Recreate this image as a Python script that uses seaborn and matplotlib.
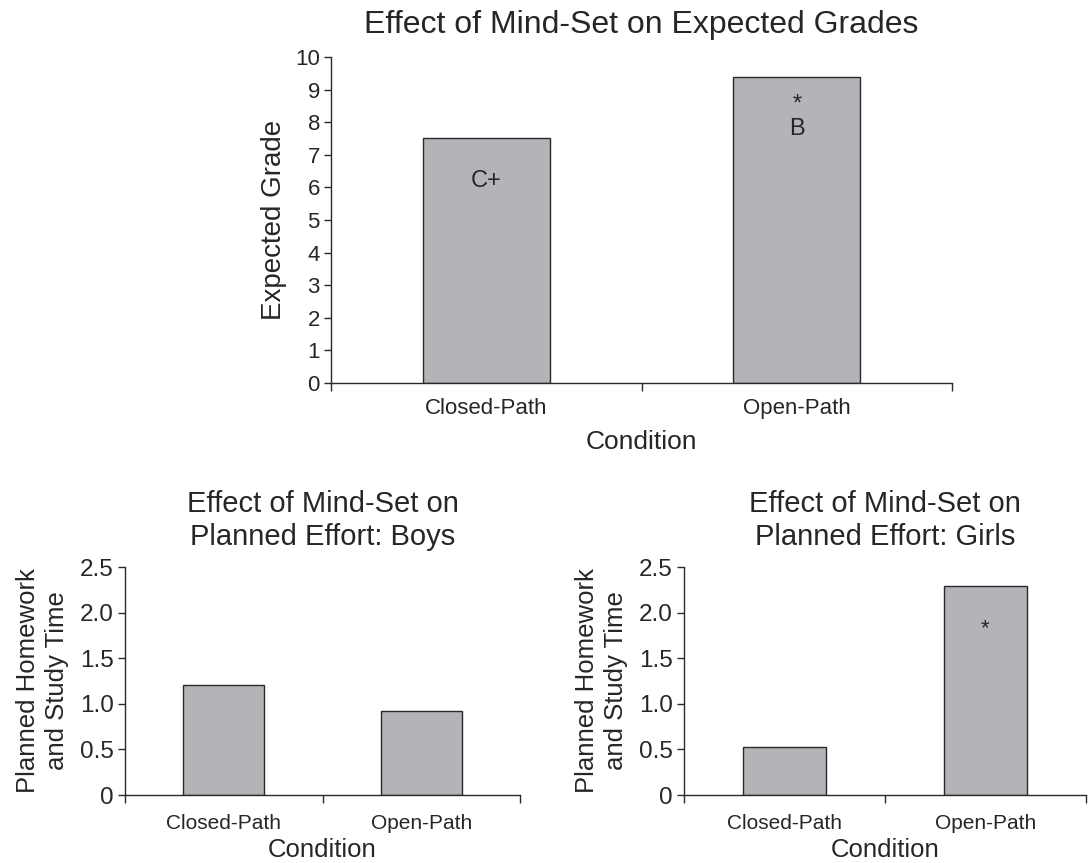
import pandas as pd
import matplotlib.pyplot as plt
import seaborn as sns

# data
conditions = ["Closed-Path", "Open-Path"]
expected_grade = [7.5, 9.4]
grade_letters = ["C+", "B"]
effort_boys = [1.21, 0.92]
effort_girls = [0.53, 2.29]

BAR_COLOR = "#b3b4b8"
EDGE_COLOR = "#2a2a2a"

sns.set_style("ticks")
plt.rcParams['font.family'] = ['Liberation Sans', 'DejaVu Sans']

W, H = 1091, 863
fig = plt.figure(figsize=(W / 100, H / 100), dpi=100)


def px_axes(left, top, right, bottom):
    return fig.add_axes([left / W, 1 - bottom / H, (right - left) / W, (bottom - top) / H])


def draw_bars(ax, values, ymax, yticks, yticklabels, xtick_fs, ytick_fs, label_fs, xpad, lpad):
    df = pd.DataFrame({"Condition": conditions, "Value": values})
    sns.barplot(data=df, x="Condition", y="Value", color=BAR_COLOR, width=0.41,
                edgecolor=EDGE_COLOR, linewidth=1.0, saturation=1, ax=ax)
    ax.set_xlim(-0.5, 1.5)
    ax.set_ylim(0, ymax)
    ax.set_yticks(yticks)
    ax.set_yticklabels(yticklabels, fontsize=ytick_fs)
    ax.set_xticks([-0.5, 0.5, 1.5], minor=True)
    ax.tick_params(axis="x", which="major", length=0, labelsize=xtick_fs, pad=xpad)
    ax.tick_params(axis="x", which="minor", length=6, width=1, color=EDGE_COLOR)
    ax.tick_params(axis="y", length=5, width=1, color=EDGE_COLOR, pad=3)
    for s in ["top", "right"]:
        ax.spines[s].set_visible(False)
    for s in ["left", "bottom"]:
        ax.spines[s].set_color(EDGE_COLOR)
        ax.spines[s].set_linewidth(1)
    ax.set_xlabel("Condition", fontsize=label_fs, labelpad=lpad)


# top panel
ax1 = px_axes(331, 57, 952, 383)
draw_bars(ax1, expected_grade, 10, range(0, 11), [str(i) for i in range(11)],
          16, 16, 19, 11, 8)
ax1.set_ylabel("Expected Grade", fontsize=20, labelpad=6)
ax1.set_title("Effect of Mind-Set on Expected Grades", fontsize=23, pad=17)
ax1.text(0, expected_grade[0] - 1.3, grade_letters[0], ha="center", va="center", fontsize=17)
ax1.text(1, expected_grade[1] - 1.6, grade_letters[1], ha="center", va="center", fontsize=17)
ax1.text(1, expected_grade[1] - 0.85, "*", ha="center", va="center", fontsize=17)

effort_ticks = [0, 0.5, 1.0, 1.5, 2.0, 2.5]
effort_labels = ["0", "0.5", "1.0", "1.5", "2.0", "2.5"]

# bottom-left panel
ax2 = px_axes(125, 567, 520, 795)
draw_bars(ax2, effort_boys, 2.5, effort_ticks, effort_labels, 15, 17.5, 18.5, 14, 3)
ax2.set_ylabel("Planned Homework\nand Study Time", fontsize=18.5, labelpad=8, linespacing=1.25)
ax2.set_title("Effect of Mind-Set on\nPlanned Effort: Boys", fontsize=21, pad=16, linespacing=1.2)

# bottom-right panel
ax3 = px_axes(684, 567, 1086, 795)
draw_bars(ax3, effort_girls, 2.5, effort_ticks, effort_labels, 15, 17.5, 18.5, 14, 3)
ax3.set_ylabel("Planned Homework\nand Study Time", fontsize=18.5, labelpad=8, linespacing=1.25)
ax3.set_title("Effect of Mind-Set on\nPlanned Effort: Girls", fontsize=21, pad=16, linespacing=1.2)
ax3.text(1, 1.82, "*", ha="center", va="center", fontsize=16)

fig.savefig("out.png", dpi=100, facecolor="white")
